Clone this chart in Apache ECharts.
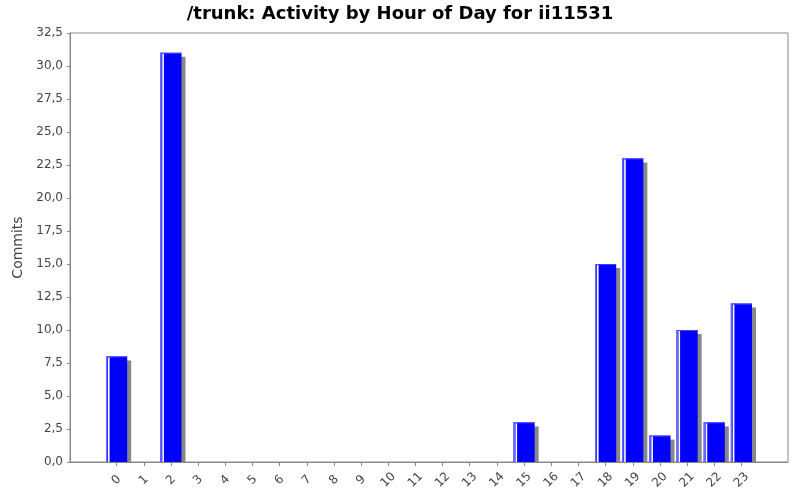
<!DOCTYPE html>
<html>
<head>
<meta charset="utf-8">
<script src="https://cdn.jsdelivr.net/npm/echarts@6/dist/echarts.min.js"></script>
<style>html,body{margin:0;padding:0;background:#fff}#c{width:800px;height:500px}</style>
</head>
<body>
<div id="c"></div>
<script>
var hours = ['0','1','2','3','4','5','6','7','8','9','10','11','12','13','14','15','16','17','18','19','20','21','22','23'];
var commits = [8,0,31,0,0,0,0,0,0,0,0,0,0,0,0,3,0,0,15,23,2,10,3,12];
var titleText = '/trunk: Activity by Hour of Day for ii11531';
var yName = 'Commits';

var chart = echarts.init(document.getElementById('c'), null, {renderer:'canvas'});
function fmt(v){ return v.toFixed(1).replace('.', ','); }
function renderItem(params, api) {
  var idx = api.value(0), v = api.value(1);
  if (!(v > 0)) return null;
  var top = api.coord([idx, v]);
  var base = api.coord([idx, 0]);
  var band = api.size([1, 0])[0];
  var w = band * 0.78;
  var x = top[0] - w / 2;
  var h = base[1] - top[1];
  return {type:'group', children:[
    {type:'rect', shape:{x:x+4, y:top[1]+4, width:w, height:Math.max(h-4,0)}, style:{fill:'#888888'}},
    {type:'rect', shape:{x:x, y:top[1], width:w, height:h}, style:{fill:'#0000ff'}},
    {type:'rect', shape:{x:x, y:top[1], width:w, height:1}, style:{fill:'#4040ff'}},
    {type:'rect', shape:{x:x, y:top[1], width:1.5, height:h}, style:{fill:'#6a6aff'}},
    {type:'rect', shape:{x:x+2, y:top[1]+1, width:1.6, height:h-1}, style:{fill:'#ffffff'}}
  ]};
}
var data = hours.map(function(hh, i){ return [i, commits[i]]; });
chart.setOption({
  animation:false,
  backgroundColor:'#fff',
  title:{text:titleText, left:'center', top:0, textStyle:{fontFamily:'DejaVu Sans', fontWeight:'bold', fontSize:18, color:'#000'}},
  grid:[
    {left:70, right:12, top:33, bottom:38, show:true, borderColor:'#888888', borderWidth:1, backgroundColor:'#fff'},
    {left:103, right:45, top:33, bottom:38}
  ],
  xAxis:[
    {gridIndex:0, type:'value', min:0, max:1, offset:4, axisLine:{show:true, lineStyle:{color:'#888888', width:1}}, axisTick:{show:false}, axisLabel:{show:false}, splitLine:{show:false}},
    {gridIndex:1, type:'category', data:hours, offset:4, axisLine:{show:false}, axisTick:{show:true, length:4, alignWithLabel:true, lineStyle:{color:'#888888'}},
     axisLabel:{rotate:45, margin:14, interval:0, align:'center', verticalAlign:'middle', fontFamily:'DejaVu Sans', fontSize:12, color:'#444'}, splitLine:{show:false}}
  ],
  yAxis:[
    {gridIndex:0, type:'value', min:0, max:32.5, interval:2.5, offset:3, name:yName, nameLocation:'middle', nameGap:41,
     nameTextStyle:{fontFamily:'DejaVu Sans', fontSize:14, color:'#444'},
     axisLine:{show:true, lineStyle:{color:'#888888', width:1}}, axisTick:{show:true, length:3, lineStyle:{color:'#888888'}},
     axisLabel:{margin:4, formatter:fmt, fontFamily:'DejaVu Sans', fontSize:12, color:'#444'}, splitLine:{show:false}},
    {gridIndex:1, type:'value', min:0, max:32.5, interval:2.5, show:false, splitLine:{show:false}}
  ],
  series:[{type:'custom', xAxisIndex:1, yAxisIndex:1, renderItem:renderItem, data:data, encode:{x:0, y:1}}]
});
</script>
</body>
</html>
